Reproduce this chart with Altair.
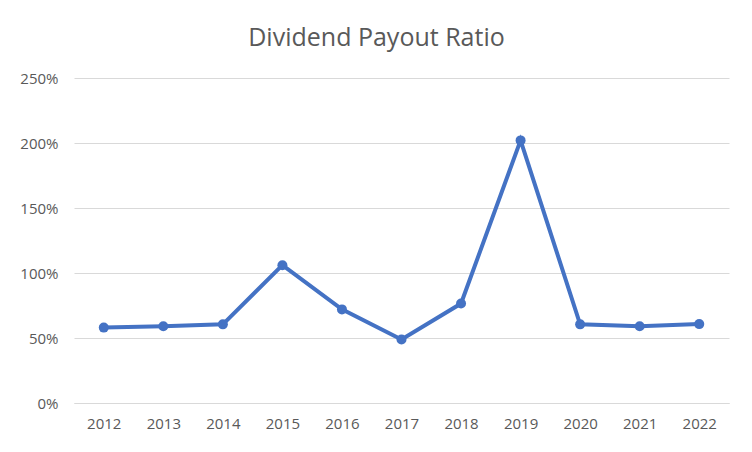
import altair as alt
import pandas as pd

years = ["2012", "2013", "2014", "2015", "2016", "2017", "2018", "2019", "2020", "2021", "2022"]
ratio = [0.58, 0.59, 0.605, 1.06, 0.72, 0.488, 0.765, 2.02, 0.605, 0.59, 0.607]
y_ticks = [0, 0.5, 1.0, 1.5, 2.0, 2.5]

df = pd.DataFrame({"year": years, "ratio": ratio})

FONT = "Open Sans"
GREY = "#595959"

base = alt.Chart(df).encode(
    x=alt.X("year:O", title=None, sort=years,
            axis=alt.Axis(labelAngle=0, ticks=False, domain=True, domainColor="#D9D9D9",
                          labelFont=FONT, labelFontSize=15, labelColor=GREY, labelPadding=13)),
    y=alt.Y("ratio:Q", title=None,
            scale=alt.Scale(domain=[0, 2.5], nice=False),
            axis=alt.Axis(values=y_ticks, format=".0%", ticks=False, domain=False,
                          gridColor="#D9D9D9", gridWidth=1,
                          labelFont=FONT, labelFontSize=15, labelColor=GREY, labelPadding=16)),
)

line = base.mark_line(color="#4472C4", strokeWidth=4)
pts = base.mark_point(color="#4472C4", filled=True, opacity=1, size=100, shape="circle")

chart = (line + pts).properties(
    width=655, height=325,
    title=alt.TitleParams("Dividend Payout Ratio", font=FONT, fontSize=25, fontWeight="normal",
                          color=GREY, anchor="middle", offset=20, dx=-25),
    autosize=alt.AutoSizeParams(type="none"),
    padding={"left": 66, "top": 70, "right": 15, "bottom": 41},
).configure_view(stroke=None).configure_axisX(grid=False)

chart.save("out.html", embed_options={"renderer": "svg", "actions": False})
